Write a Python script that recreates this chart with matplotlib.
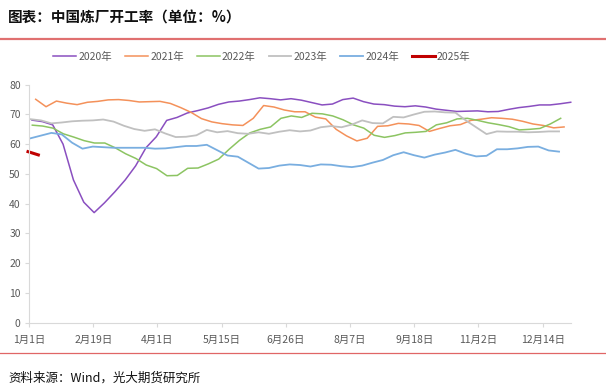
import numpy as np
import matplotlib
matplotlib.use('Agg')
import matplotlib.pyplot as plt

plt.rcParams['font.family'] = ['Noto Sans CJK SC', 'DejaVu Sans']

# weekly refinery run rates, one list per year
years = ['2020年', '2021年', '2022年', '2023年', '2024年', '2025年']
start_day = [2.0, 4.5, 2.2, 1.1, 1.1, -0.7]   # day of year of first reading

v2020 = [68.1, 67.6, 66.5, 60.0, 48.0, 40.5, 37.0, 40.3, 44.0, 48.0, 52.7, 58.8, 62.5,
         68.0, 69.0, 70.5, 71.3, 72.2, 73.4, 74.2, 74.5, 75.0, 75.6, 75.3, 74.9, 75.3,
         74.8, 74.0, 73.2, 73.5, 75.0, 75.5, 74.3, 73.5, 73.3, 72.8, 72.6, 72.9, 72.5,
         71.8, 71.4, 71.0, 71.1, 71.2, 70.9, 71.0, 71.7, 72.3, 72.7, 73.2, 73.2, 73.6, 74.1]
v2021 = [75.1, 72.6, 74.5, 73.8, 73.3, 74.1, 74.4, 74.9, 75.0, 74.7, 74.2, 74.3, 74.4,
         73.7, 72.3, 70.7, 68.6, 67.5, 66.9, 66.5, 66.3, 68.7, 73.0, 72.5, 71.5, 70.9,
         70.9, 69.1, 68.5, 65.0, 62.8, 61.1, 62.0, 66.0, 66.2, 67.0, 66.8, 66.3, 64.3,
         65.3, 66.2, 66.6, 68.0, 68.4, 68.9, 68.7, 68.4, 67.7, 66.8, 66.3, 65.5, 65.8]
v2022 = [66.4, 66.1, 65.4, 63.5, 62.4, 61.2, 60.4, 60.4, 58.8, 56.8, 55.2, 53.0, 51.8,
         49.4, 49.5, 51.9, 52.0, 53.4, 55.0, 58.3, 61.3, 63.8, 65.0, 65.8, 68.7, 69.5,
         69.0, 70.4, 70.2, 69.5, 68.2, 66.5, 65.4, 63.0, 62.3, 62.9, 63.8, 64.0, 64.3,
         66.5, 67.2, 68.5, 68.7, 68.0, 67.2, 66.6, 65.9, 64.8, 65.0, 65.3, 66.8, 68.7]
v2023 = [68.4, 68.0, 67.0, 67.3, 67.7, 67.9, 68.0, 68.3, 67.6, 66.2, 65.1, 64.5, 65.0,
         63.6, 62.4, 62.5, 63.0, 64.8, 64.0, 64.4, 63.7, 63.5, 64.0, 63.5, 64.2, 64.7,
         64.3, 64.6, 65.7, 66.1, 65.7, 66.6, 68.0, 67.1, 67.0, 69.2, 69.0, 70.0, 70.9,
         71.0, 70.7, 70.6, 68.0, 65.7, 63.4, 64.3, 64.2, 64.2, 64.0, 64.1, 64.3, 64.3]
v2024 = [62.0, 62.9, 63.8, 63.3, 60.5, 58.5, 59.2, 59.0, 58.8, 58.8, 58.8, 58.8, 58.5,
         58.6, 59.0, 59.4, 59.4, 59.8, 58.0, 56.2, 55.8, 53.8, 51.8, 52.0, 52.8, 53.2,
         53.0, 52.5, 53.2, 53.1, 52.6, 52.3, 52.8, 53.8, 54.7, 56.3, 57.3, 56.3, 55.5,
         56.5, 57.2, 58.1, 56.8, 55.9, 56.1, 58.3, 58.3, 58.6, 59.1, 59.2, 57.9, 57.5]
v2025 = [57.5, 56.4]

series = [v2020, v2021, v2022, v2023, v2024, v2025]
colors = ['#8a4fc0', '#f4915a', '#8cc462', '#c0c0c0', '#79aee0', '#c00000']
widths = [1.1, 1.1, 1.1, 1.3, 1.3, 2.2]

tick_labels = ['1月1日', '2月19日', '4月1日', '5月15日', '6月26日', '8月7日',
               '9月18日', '11月2日', '12月14日']

fig = plt.figure(figsize=(6.06, 3.90), dpi=100)
ax = fig.add_axes([0.0479, 0.1726, 0.8939, 0.6102])

for name, d0, vals, c, lw in zip(years, start_day, series, colors, widths):
    x = d0 + 7 * np.arange(len(vals))
    ax.plot(x, vals, color=c, lw=lw, label=name, clip_on=False)

ax.set_xlim(0, 366)
ax.set_ylim(0, 80)
ax.set_yticks(range(0, 81, 10))
ax.set_xticks(np.linspace(0, 347, len(tick_labels)))
ax.set_xticklabels(tick_labels)

for s in ['top', 'right']:
    ax.spines[s].set_visible(False)
for s in ['left', 'bottom']:
    ax.spines[s].set_color('#d9d9d9')
    ax.spines[s].set_linewidth(0.8)
ax.tick_params(axis='both', colors='#d9d9d9', length=3, width=0.8)
ax.tick_params(axis='y', labelcolor='#595959', labelsize=7.5, pad=3)
ax.tick_params(axis='x', labelcolor='#595959', labelsize=7.5, pad=6)

fig.legend(loc='center', bbox_to_anchor=(262 / 606, 1 - 57 / 390), ncol=6,
           frameon=False, fontsize=7.5, handlelength=2.2, handletextpad=0.2,
           columnspacing=1.25, labelcolor='#595959')

fig.text(8 / 606, 1 - 18 / 390, '图表：中国炼厂开工率（单位：%）', fontsize=10.5,
         fontweight='bold', va='center', ha='left', color='#111111')
fig.add_artist(plt.Line2D([0, 1], [1 - 38.5 / 390] * 2, color='#e07070', lw=1.6))
fig.add_artist(plt.Line2D([0, 1], [1 - 353 / 390] * 2, color='#e06666', lw=0.9))
fig.text(8 / 606, 1 - 378 / 390, '资料来源：Wind，光大期货研究所', fontsize=9,
         style='italic', va='center', ha='left', color='#111111')

fig.savefig('out.png', dpi=100)
